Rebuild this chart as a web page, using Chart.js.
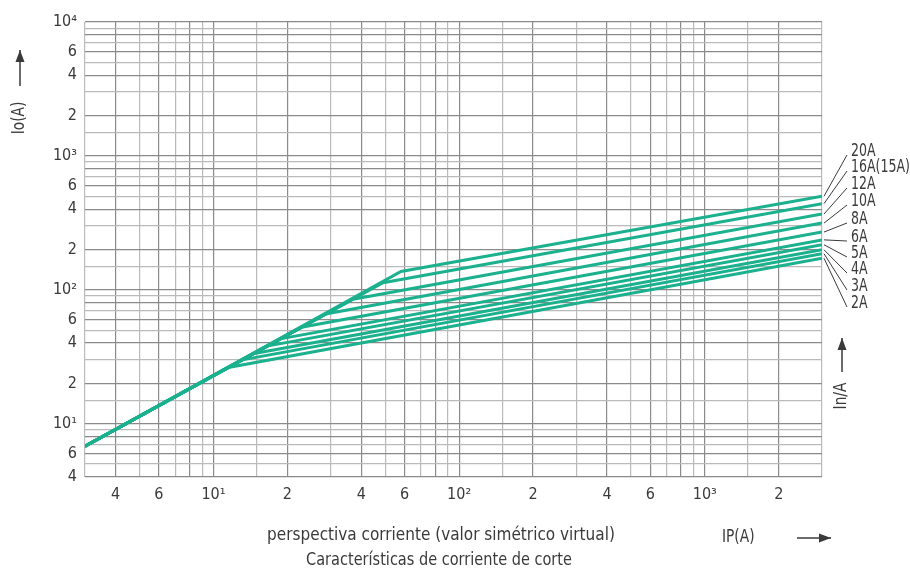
<!DOCTYPE html>
<html>
<head>
<meta charset="utf-8">
<script src="https://cdn.jsdelivr.net/npm/chart.js@4/dist/chart.umd.min.js"></script>
<style>
  html, body { margin: 0; padding: 0; background: #ffffff; }
  #wrap { width: 910px; height: 571px; }
</style>
</head>
<body>
<div id="wrap"><canvas id="c" width="910" height="571"></canvas></div>
<script>
// ===== datos =====
const ratings = ["20A", "16A(15A)", "12A", "10A", "8A", "6A", "5A", "4A", "3A", "2A"];
const startPoint = [3, 6.8];               // inicio de la recta común (IP, Io)
const kneeX = [58, 49, 37, 28.6, 22.8, 18.7, 16.5, 14.5, 13.1, 11.5];
const kneeY = [137, 113, 85, 66, 52.5, 43, 38, 33.3, 30, 26.3];
const endX = 3000;
const endY = [500, 440, 368, 315, 270, 236, 217, 199, 186, 172];

const xGrid = [3, 4, 5, 6, 7, 8, 9, 10, 15, 20, 30, 40, 50, 60, 70, 80, 90,
  100, 150, 200, 300, 400, 500, 600, 700, 800, 900, 1000, 1500, 2000, 3000];
const yGrid = [4, 5, 6, 7, 8, 9, 10, 15, 20, 30, 40, 50, 60, 70, 80, 90,
  100, 150, 200, 300, 400, 500, 600, 700, 800, 900, 1000, 1500, 2000, 3000,
  4000, 5000, 6000, 7000, 8000, 9000, 10000];
const xLabels = { 4: "4", 6: "6", 10: "10¹", 20: "2", 40: "4", 60: "6",
  100: "10²", 200: "2", 400: "4", 600: "6", 1000: "10³", 2000: "2" };
const yLabels = { 4: "4", 6: "6", 10: "10¹", 20: "2", 40: "4", 60: "6",
  100: "10²", 200: "2", 400: "4", 600: "6", 1000: "10³", 2000: "2",
  4000: "4", 6000: "6", 10000: "10⁴" };

// ===== estilo =====
const FONT = '"DejaVu Sans Condensed", "Liberation Sans Narrow", "DejaVu Sans", sans-serif';
const INK = "#3a3a3a";
const GREEN = "#1bb08e";
const DARK_GRID = "#8a8a8a";
const LIGHT_GRID = "#bababa";

function gridColor(v) {
  const m = v / Math.pow(10, Math.floor(Math.log10(v) + 1e-9));
  const r = Math.round(m * 10) / 10;
  return (r === 1 || r === 2 || r === 4 || r === 6 || r === 8) ? DARK_GRID : LIGHT_GRID;
}

const datasets = ratings.map((r, i) => ({
  label: r,
  data: [
    { x: startPoint[0], y: startPoint[1] },
    { x: kneeX[i], y: kneeY[i] },
    { x: endX, y: endY[i] },
  ],
  borderColor: GREEN,
  borderWidth: 3,
  pointRadius: 0,
  tension: 0,
  fill: false,
}));

// texto estrecho (la fuente original es condensada)
function narrowText(ctx, txt, x, y, align, sx) {
  ctx.save();
  ctx.translate(x, y);
  ctx.scale(sx, 1);
  ctx.textAlign = align;
  ctx.fillText(txt, 0, 0);
  ctx.restore();
}

// textos y flechas alrededor del gráfico
const labelsPlugin = {
  id: "labelsPlugin",
  afterDraw(chart) {
    const ctx = chart.ctx;
    const area = chart.chartArea;
    const ys = chart.scales.y;
    ctx.save();
    ctx.fillStyle = INK;
    ctx.strokeStyle = INK;
    ctx.textBaseline = "middle";

    // etiquetas de las curvas + líneas guía
    const labY = [152, 168, 185, 202, 220, 238, 254, 270, 287, 304];
    ctx.font = "17px " + FONT;
    ctx.lineWidth = 1;
    ratings.forEach((r, i) => {
      const y0 = ys.getPixelForValue(endY[i]);
      ctx.beginPath();
      ctx.moveTo(area.right + 2, y0);
      ctx.lineTo(847, labY[i] + 3);
      ctx.stroke();
      narrowText(ctx, r, 851, labY[i], "left", 0.82);
    });

    function arrow(x1, y1, x2, y2) {
      ctx.lineWidth = 1.5;
      ctx.beginPath();
      ctx.moveTo(x1, y1);
      ctx.lineTo(x2, y2);
      ctx.stroke();
      const a = Math.atan2(y2 - y1, x2 - x1);
      const L = 12, W = 4.5;
      ctx.beginPath();
      ctx.moveTo(x2, y2);
      ctx.lineTo(x2 - L * Math.cos(a) + W * Math.sin(a), y2 - L * Math.sin(a) - W * Math.cos(a));
      ctx.lineTo(x2 - L * Math.cos(a) - W * Math.sin(a), y2 - L * Math.sin(a) + W * Math.cos(a));
      ctx.closePath();
      ctx.fill();
    }

    // eje Y: Io(A)
    ctx.font = "17px " + FONT;
    ctx.save();
    ctx.translate(20, 118);
    ctx.rotate(-Math.PI / 2);
    narrowText(ctx, "Io(A)", 0, 0, "center", 0.9);
    ctx.restore();
    arrow(20, 86, 20, 50);

    // In/A
    ctx.save();
    ctx.translate(842, 396);
    ctx.rotate(-Math.PI / 2);
    narrowText(ctx, "In/A", 0, 0, "center", 0.9);
    ctx.restore();
    arrow(842, 372, 842, 338);

    // eje X
    narrowText(ctx, "IP(A)", 722, 538, "left", 0.9);
    arrow(797, 538, 831, 538);

    ctx.font = "17px " + FONT;
    narrowText(ctx, "perspectiva corriente (valor simétrico virtual)", 441, 536, "center", 1.0);
    narrowText(ctx, "Características de corriente de corte", 439, 561, "center", 0.95);
    ctx.restore();
  },
};

new Chart(document.getElementById("c"), {
  type: "line",
  data: { datasets },
  options: {
    responsive: false,
    animation: false,
    layout: { padding: { left: 0, right: 88, top: 22, bottom: 64 } },
    plugins: { legend: { display: false }, tooltip: { enabled: false } },
    scales: {
      x: {
        type: "logarithmic",
        min: 3,
        max: 3000,
        afterBuildTicks: (s) => { s.ticks = xGrid.map((v) => ({ value: v })); },
        afterFit: (s) => { s.height = 30; },
        grid: {
          drawTicks: false,
          lineWidth: 1.2,
          color: (c) => gridColor(c.tick.value),
        },
        border: { display: false },
        ticks: {
          autoSkip: false,
          maxRotation: 0,
          padding: 8,
          color: INK,
          font: { family: FONT, size: 16 },
          callback: (v) => xLabels[v] || "",
        },
      },
      y: {
        type: "logarithmic",
        min: 4,
        max: 10000,
        afterBuildTicks: (s) => { s.ticks = yGrid.map((v) => ({ value: v })); },
        afterFit: (s) => { s.width = 85; },
        grid: {
          drawTicks: false,
          lineWidth: 1.2,
          color: (c) => gridColor(c.tick.value),
        },
        border: { display: false },
        ticks: {
          autoSkip: false,
          padding: 8,
          color: INK,
          font: { family: FONT, size: 16 },
          callback: (v) => yLabels[v] || "",
        },
      },
    },
  },
  plugins: [labelsPlugin],
});
</script>
</body>
</html>
